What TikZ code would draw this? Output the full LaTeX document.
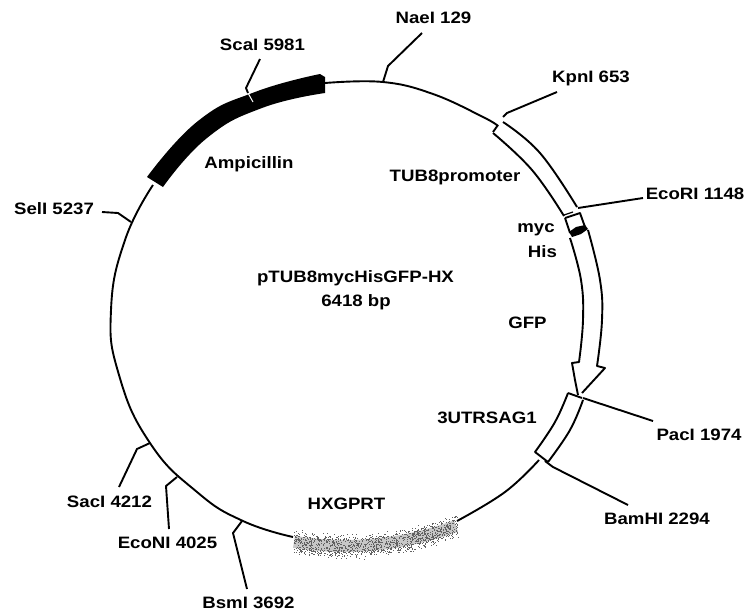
\documentclass[tikz,border=0pt]{standalone}
\usepackage{fontspec}
\setmainfont[FakeStretch=1.13]{Liberation Sans}
\tikzset{
  lab/.style={inner sep=0pt,outer sep=0pt,anchor=center,text height=11.8pt,text depth=0pt,font=\fontsize{16.5}{18}\selectfont\bfseries},
  ring/.style={line width=1.9pt,line join=round},
  leader/.style={line width=1.9pt,line join=round},
}
\begin{document}
\begin{tikzpicture}[x=1pt,y=-1pt]
\useasboundingbox (0,0) rectangle (747,614);
\fill[white] (0,0) rectangle (747,614);
% labels
\node[lab] (nae) at (433.5,18) {NaeI 129};
\node[lab] (sca) at (262.5,45) {ScaI 5981};
\node[lab] (kpn) at (591,77) {KpnI 653};
\node[lab] (eco) at (695,194) {EcoRI 1148};
\node[lab] (sel) at (54,209) {SelI 5237};
\node[lab] (amp) at (249,163) {Ampicillin};
\node[lab] (tub) at (455,176) {TUB8promoter};
\node[lab] (myc) at (536,227) {myc};
\node[lab] (his) at (542.5,252) {His};
\node[lab] (gfp) at (527.5,323) {GFP};
\node[lab] (utr) at (487,418) {3UTRSAG1};
\node[lab] (pac) at (699,435) {PacI 1974};
\node[lab] (bam) at (657,519) {BamHI 2294};
\node[lab] (sac) at (109.5,502) {SacI 4212};
\node[lab] (econi) at (167.5,543) {EcoNI 4025};
\node[lab] (bsm) at (248.5,603) {BsmI 3692};
\node[lab] (hx) at (346.5,504) {HXGPRT};
\node[lab] (title) at (355.5,277) {pTUB8mycHisGFP-HX};
\node[lab] (size) at (356,301) {6418 bp};
% backbone
\draw[ring] plot[smooth,tension=0.7] coordinates {(325,83) (383,82) (433,94) (483,117) (498,126)};
\draw[ring] plot[smooth,tension=0.8] coordinates {(153,185) (125,240) (111,310) (119,375) (150,443) (197,492) (243,521) (293,537)};
\draw[ring] plot[smooth,tension=0.7] coordinates {(457,521) (505,492) (539,460)};
% Ampicillin
\fill[black] plot[smooth,tension=0.8] coordinates {(147,177) (198,121) (255,92) (320,74)} -- (325,77) -- plot[smooth,tension=0.8] coordinates {(325,93) (262,108) (207,138) (163,187)} -- cycle;
\draw[white,line width=1pt] (248,93) -- (253,102);
% TUB8 promoter
\draw[ring] plot[smooth,tension=0.7] coordinates {(503,122) (540,153) (577,207)};
\draw[ring] (498,125) -- (493,132);
\draw[ring] plot[smooth,tension=0.7] coordinates {(493,133) (532,170) (564,216)};
% myc box
\draw[ring] (565,218) -- (580,213) -- (585,227);
\draw[ring] (565,218) -- (570,233);
\draw[line width=1.2pt] (564,215) -- (573,212);
\fill[black] (569,232) -- (576,227) -- (585,225) -- (588,229) -- (581,234) -- (572,237) -- cycle;
% GFP arrow
\draw[ring] plot[smooth,tension=0.7] coordinates {(570,238) (581,280) (583,320) (579,362)} -- (572,363) -- (575,380) -- (578,395);
\draw[ring] plot[smooth,tension=0.7] coordinates {(588,230) (600,280) (602,320) (597,366)} -- (605,368) -- (582,393);
% 3UTR
\draw[ring] plot[smooth,tension=0.7] coordinates {(568,393) (555,422) (535,452)} -- (548,462);
\draw[ring] plot[smooth,tension=0.7] coordinates {(583,400) (570,430) (548,462)};
\draw[ring] (568,393) -- (582,398);
% HXGPRT: stippled band
\pgfmathsetseed{4711}
\draw[line width=12pt,color=black!22] plot[smooth,tension=0.6,domain=294:456,samples=20] (\x,{546-0.00162*(\x-345)*(\x-345)});
\foreach \i in {1,...,1300}{
  \pgfmathsetmacro{\px}{293+rnd*165}
  \pgfmathsetmacro{\py}{546-0.00162*(\px-345)*(\px-345)+(rnd-0.5)*(rnd+0.9)*14}
  \fill[black!62] (\px,\py) rectangle +(1,1);
}
% leaders
\coordinate (a1) at (383,82); \coordinate (a2) at (388,66); \coordinate (a3) at (422,33);
\draw[leader] (a1) -- (a2) -- (a3);
\coordinate (b1) at (246,88); \coordinate (b2) at (260,59); \coordinate (b0) at (248,93);
\draw[leader] (b0) -- (b1) -- (b2);
\coordinate (c1) at (503,117); \coordinate (c2) at (507,113); \coordinate (c3) at (557,92);
\draw[leader] (c1) -- (c2) -- (c3);
\coordinate (d1) at (578,208); \coordinate (d2) at (643,198);
\draw[leader] (d1) -- (d2);
\coordinate (e1) at (131,222); \coordinate (e2) at (118,213); \coordinate (e3) at (102,212);
\draw[leader] (e1) -- (e2) -- (e3);
\coordinate (f1) at (583,398); \coordinate (f2) at (653,421);
\draw[leader] (f1) -- (f2);
\coordinate (g1) at (545,461); \coordinate (g2) at (553,467); \coordinate (g3) at (628,505);
\draw[leader] (g1) -- (g2) -- (g3);
\coordinate (h1) at (150,443); \coordinate (h2) at (137,449); \coordinate (h3) at (119,487);
\draw[leader] (h1) -- (h2) -- (h3);
\coordinate (i1) at (177,477); \coordinate (i2) at (166,486); \coordinate (i3) at (169,529);
\draw[leader] (i1) -- (i2) -- (i3);
\coordinate (j1) at (242,521); \coordinate (j2) at (233,533); \coordinate (j3) at (247,589);
\draw[leader] (j1) -- (j2) -- (j3);
\end{tikzpicture}
\end{document}
